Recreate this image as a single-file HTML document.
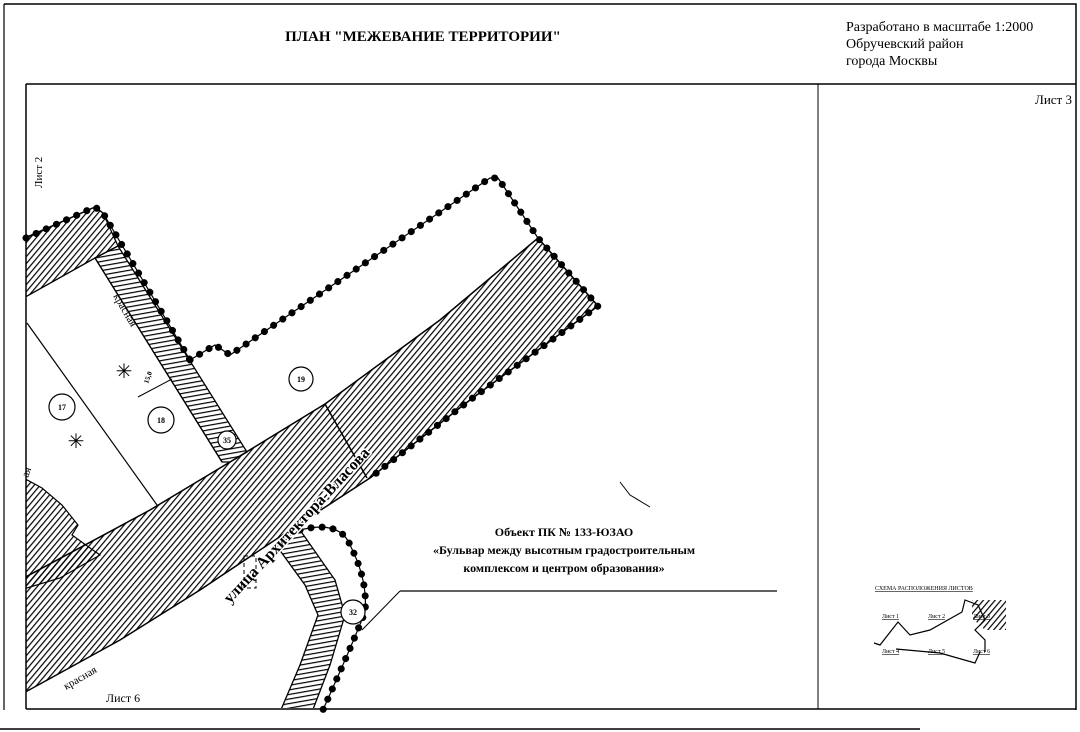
<!DOCTYPE html>
<html><head><meta charset="utf-8"><style>
html,body{margin:0;padding:0;background:#fff;}
svg{display:block}
text{font-family:"Liberation Serif",serif;fill:#000}
</style></head><body>
<svg width="1080" height="732" viewBox="0 0 1080 732" xmlns="http://www.w3.org/2000/svg">
<defs>
<pattern id="h" patternUnits="userSpaceOnUse" width="4.5" height="4.5" patternTransform="rotate(40)">
<line x1="0" y1="0" x2="0" y2="4.5" stroke="#000" stroke-width="2.4"/>
</pattern>
<pattern id="h2" patternUnits="userSpaceOnUse" width="4.5" height="4.5" patternTransform="rotate(80)">
<line x1="0" y1="0" x2="0" y2="4.5" stroke="#000" stroke-width="2.4"/>
</pattern>
<clipPath id="c"><rect x="26" y="85" width="792" height="623"/></clipPath>
</defs>
<path d="M4 4 H1076 V710" fill="none" stroke="#000" stroke-width="1.5"/>
<line x1="4" y1="4" x2="4" y2="710" stroke="#000" stroke-width="1.2"/>
<line x1="26" y1="84" x2="1076" y2="84" stroke="#000" stroke-width="1.5"/>
<line x1="26" y1="84" x2="26" y2="709" stroke="#000" stroke-width="1.5"/>
<line x1="26" y1="709" x2="1076" y2="709" stroke="#000" stroke-width="1.5"/>
<line x1="818" y1="84" x2="818" y2="709" stroke="#000" stroke-width="1"/>
<line x1="0" y1="729" x2="920" y2="729" stroke="#000" stroke-width="1.5"/>

<text x="423" y="41" font-size="15" font-weight="bold" text-anchor="middle">ПЛАН "МЕЖЕВАНИЕ ТЕРРИТОРИИ"</text>
<text x="846" y="31" font-size="14">Разработано в масштабе 1:2000</text>
<text x="846" y="48" font-size="14">Обручевский район</text>
<text x="846" y="65" font-size="14">города  Москвы</text>
<text x="1072" y="104" font-size="13" text-anchor="end">Лист 3</text>
<text transform="translate(42,188) rotate(-90)" font-size="11">Лист 2</text>
<text x="106" y="702" font-size="12">Лист 6</text>

<g clip-path="url(#c)">
<path d="M20 580 L150 510 L230 462 L325 404 L440 320 L538 238 L598 306 L470 400 L370 478 L290 530 L200 590 L120 640 L20 695 Z" fill="url(#h)" stroke="#000" stroke-width="1.5"/>
<path d="M20 240 L95 207 L103 213 L118 246 L95 258 L20 300 Z" fill="url(#h)" stroke="#000" stroke-width="1.3"/>
<path d="M95 258 L118 246 L247 452 L230 462 L222 462 Z" fill="url(#h2)" stroke="#000" stroke-width="1.3"/>
<path d="M20 476 L42 488 L62 505 L78 525 L72 535 L90 548 L100 555 L60 578 L20 590 Z" fill="url(#h)" stroke="#000" stroke-width="1.2"/>
<path d="M276 545 L300 530 L335 580 L345 615 L330 665 L312 712 L280 712 L300 665 L318 615 L305 585 Z" fill="url(#h2)" stroke="#000" stroke-width="1.3"/>
</g>
<line x1="27" y1="323" x2="157" y2="505" stroke="#000" stroke-width="1.2"/>
<line x1="222" y1="462" x2="95" y2="258" stroke="#000" stroke-width="1.2"/>
<line x1="138" y1="397" x2="172" y2="379" stroke="#000" stroke-width="1"/>
<line x1="325" y1="404" x2="367" y2="478" stroke="#000" stroke-width="1.5"/>

<g fill="none" stroke="#000" stroke-linecap="round" stroke-width="7" stroke-dasharray="0.1 11">
<path d="M190 360 L215 345 L230 355 L490 178 L498 178 L538 238 L598 306 L470 400 L370 478"/>
<path d="M26 238 L95 207 L103 213 L190 360"/>
<path d="M300 530 Q340 520 350 545 Q368 580 365 612 Q350 650 322 712"/>
</g>
<g fill="none" stroke="#000" stroke-width="1.2">
<path d="M190 360 L215 345 L230 355 L490 178 L498 178 L538 238 L598 306 L470 400 L370 478"/>
<path d="M26 238 L95 207 L103 213 L190 360"/>
<path d="M300 530 Q340 520 350 545 Q368 580 365 612 Q350 650 322 712"/>
</g>

<g fill="#fff" stroke="#000" stroke-width="1.2">
<circle cx="301" cy="379" r="12"/><circle cx="161" cy="420" r="13"/>
<circle cx="62" cy="407" r="13"/><circle cx="353" cy="612" r="12"/>
<circle cx="227" cy="440" r="9"/>
</g>
<g font-size="8" font-weight="bold" text-anchor="middle">
<text x="301" y="382">19</text><text x="161" y="423">18</text><text x="62" y="410">17</text>
<text x="353" y="615">32</text><text x="227" y="443">35</text>
</g>
<text x="124" y="378" font-size="20" text-anchor="middle">✳</text>
<text x="76" y="448" font-size="20" text-anchor="middle">✳</text>
<text transform="translate(148,384) rotate(-70)" font-size="7" font-weight="bold">15,0</text>
<text transform="translate(113,296) rotate(60)" font-size="11" font-family="Liberation Sans">красная</text>
<text transform="translate(66,690) rotate(-30)" font-size="11" font-family="Liberation Sans">красная</text>
<text transform="translate(28,478) rotate(-70)" font-size="11" font-family="Liberation Sans">ая</text>
<text transform="translate(230,604) rotate(-47)" font-size="16" font-weight="bold" stroke="#fff" stroke-width="3" paint-order="stroke">улица Архитектора-Власова</text>
<rect x="244" y="556" width="12" height="32" fill="none" stroke="#000" stroke-dasharray="4 3"/>
<path d="M620 482 L630 495 L650 507" fill="none" stroke="#000"/>

<text x="564" y="536" font-size="12" font-weight="bold" text-anchor="middle">Объект ПК № 133-ЮЗАО</text>
<text x="564" y="554" font-size="12" font-weight="bold" text-anchor="middle">«Бульвар между высотным градостроительным</text>
<text x="564" y="572" font-size="12" font-weight="bold" text-anchor="middle">комплексом и центром образования»</text>
<line x1="400" y1="591" x2="777" y2="591" stroke="#000" stroke-width="1.2"/>
<line x1="400" y1="591" x2="362" y2="630" stroke="#000" stroke-width="1"/>

<g font-size="6" text-decoration="underline">
<text x="875" y="590">СХЕМА РАСПОЛОЖЕНИЯ ЛИСТОВ</text>
<text x="882" y="618">Лист 1</text><text x="928" y="618">Лист 2</text><text x="973" y="618">Лист 3</text>
<text x="882" y="653">Лист 4</text><text x="928" y="653">Лист 5</text><text x="973" y="653">Лист 6</text>
</g>
<path d="M972 600 L1006 600 L1006 630 L985 630 L972 618 Z" fill="url(#h)"/>
<g fill="none" stroke="#000" stroke-width="1.2">
<path d="M874 643 L880 645 L898 622 L910 635 L930 630 L962 612 L965 600 L978 605 L985 620 L975 630 L985 640 L985 652"/>
<path d="M896 649 L940 653 L975 663 L980 652"/>
</g>
</svg>
</body></html>
